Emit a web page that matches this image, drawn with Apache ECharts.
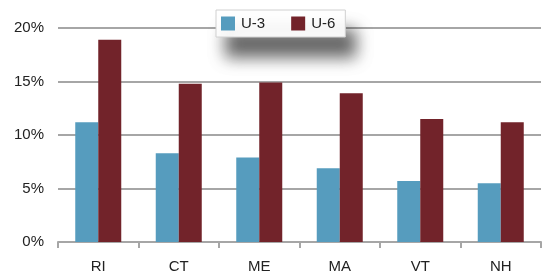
<!DOCTYPE html>
<html>
<head>
<meta charset="utf-8">
<script src="https://cdn.jsdelivr.net/npm/echarts@6/dist/echarts.min.js"></script>
<style>html,body{margin:0;padding:0;background:#fff;}#c{width:544px;height:276px;}</style>
</head>
<body>
<div id="c"></div>
<script>
const categories = ['RI', 'CT', 'ME', 'MA', 'VT', 'NH'];
const u3 = [11.2, 8.3, 7.9, 6.9, 5.7, 5.5];
const u6 = [18.9, 14.8, 14.9, 13.9, 11.5, 11.2];
const yTicks = [0, 5, 10, 15, 20];

const chart = echarts.init(document.getElementById('c'), null, {renderer: 'canvas'});
chart.setOption({
  animation: false,
  backgroundColor: '#fff',
  textStyle: {fontFamily: 'Liberation Sans, Arial, sans-serif'},
  grid: {left: 58, right: 3, top: 28, bottom: 34, containLabel: false},
  legend: {
    data: ['U-3', 'U-6'],
    left: 216, top: 10,
    padding: [6, 10, 6, 5],
    itemWidth: 14, itemHeight: 14, itemGap: 26,
    backgroundColor: '#fff',
    borderColor: '#d0d0d0', borderWidth: 1,
    shadowColor: 'rgba(0,0,0,0.6)', shadowBlur: 16, shadowOffsetX: 10, shadowOffsetY: 20,
    icon: 'rect',
    textStyle: {fontSize: 15, color: '#222', padding: [0, 0, 0, 1]}
  },
  xAxis: {
    type: 'category',
    data: categories,
    axisLine: {lineStyle: {color: '#a6a6a6', width: 2}},
    axisTick: {show: true, length: 6, lineStyle: {color: '#a6a6a6', width: 2}},
    axisLabel: {fontSize: 15, color: '#222', margin: 17}
  },
  yAxis: {
    type: 'value',
    min: 0, max: 20, interval: 5,
    axisLine: {show: false},
    axisTick: {show: false},
    splitLine: {lineStyle: {color: '#a6a6a6', width: 2}},
    axisLabel: {fontSize: 15, color: '#222', margin: 14,
      formatter: v => yTicks.includes(v) ? v + '%' : ''}
  },
  series: [
    {name: 'U-3', type: 'bar', data: u3, barWidth: 23, barGap: '0%',
     itemStyle: {color: '#569cbe'}},
    {name: 'U-6', type: 'bar', data: u6, barWidth: 23,
     itemStyle: {color: '#72232a'}}
  ]
});
</script>
</body>
</html>
